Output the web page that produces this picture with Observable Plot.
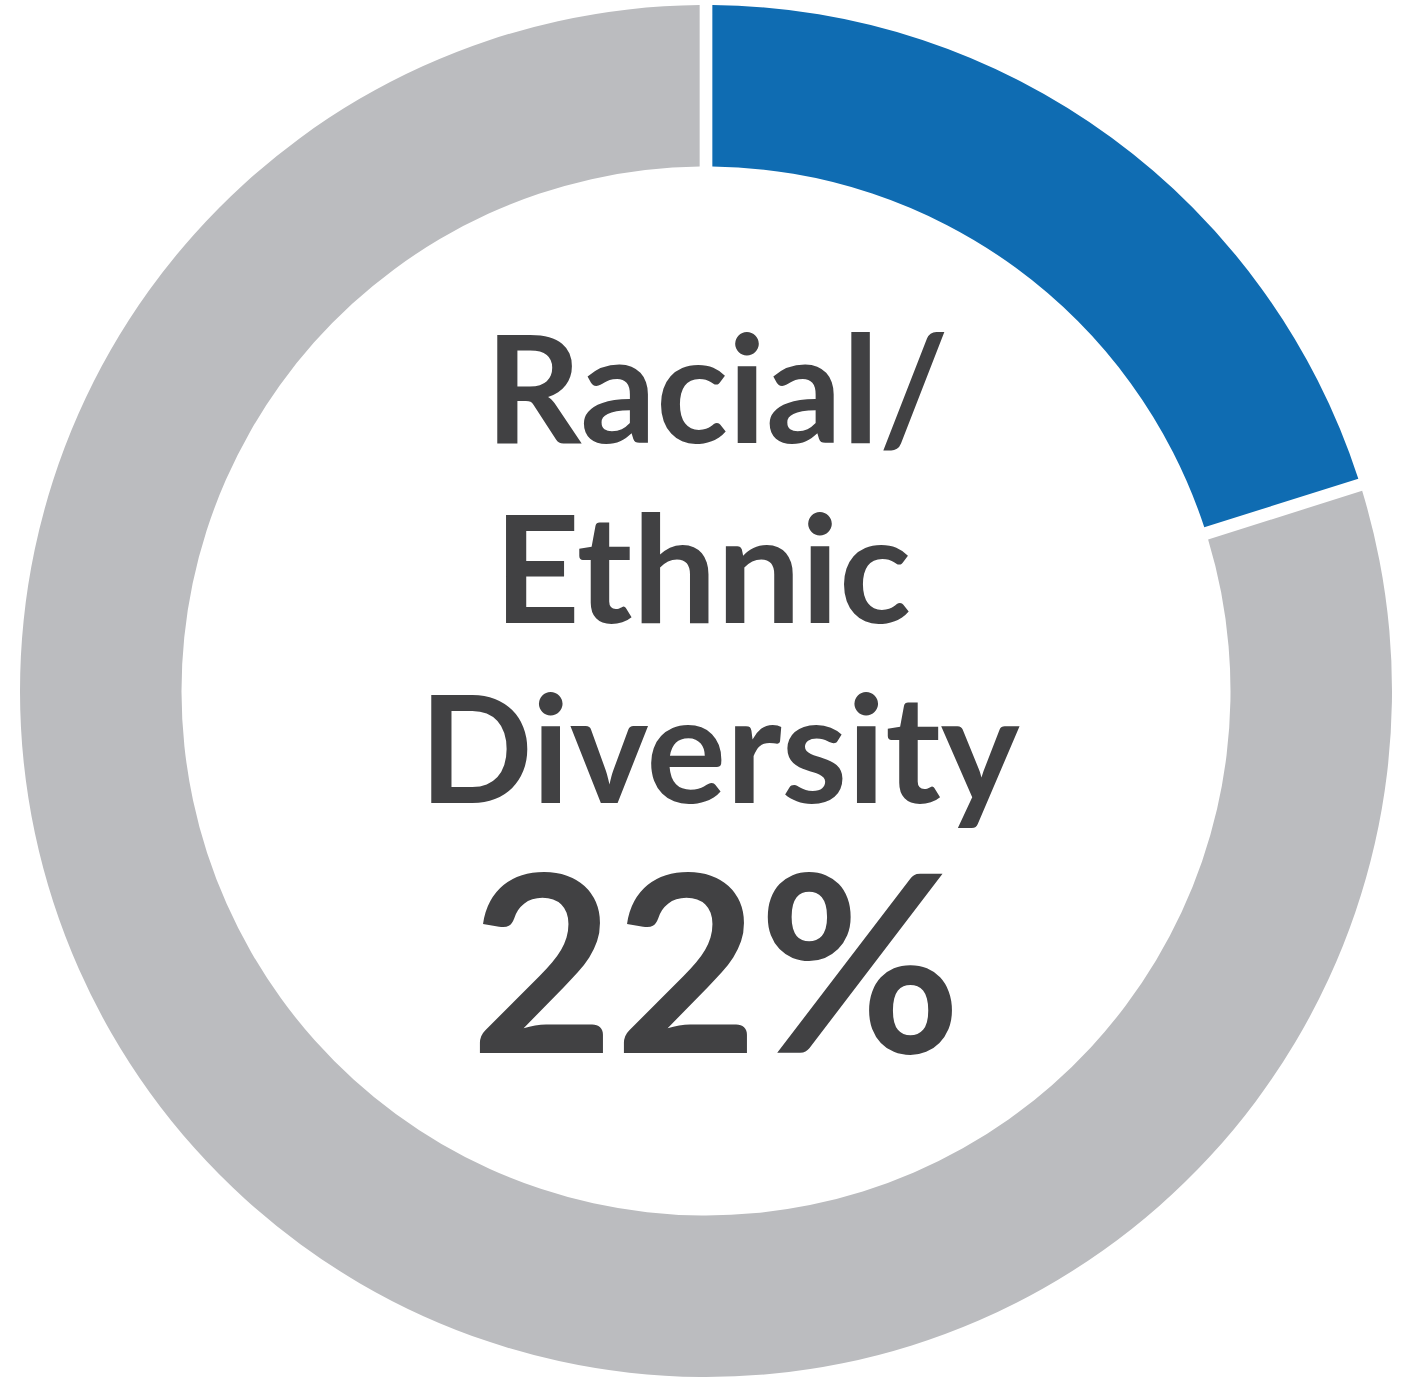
<!DOCTYPE html>
<html>
<head>
<meta charset="utf-8">
<script src="https://cdn.jsdelivr.net/npm/d3@7"></script>
<script src="https://cdn.jsdelivr.net/npm/@observablehq/plot@0.6"></script>
<style>
  html, body { margin: 0; padding: 0; background: #ffffff; }
  #chart svg { display: block; }
</style>
</head>
<body>
<div id="chart"></div>
<script>
// ---- data ----
const categories = ["Racial/Ethnic Diversity", "Other"];
const shares = [20, 80];
const sliceColors = ["#0F6CB2", "#BBBCBF"];
const labelLines = ["Racial/", "Ethnic", "Diversity"];
const valueLabel = "22%";

const slices = categories.map((c, i) => ({category: c, share: shares[i]}));
const colorScale = Plot.scale({color: {type: "ordinal", domain: categories, range: sliceColors}});

const W = 1408, H = 1400;
const CX = 706, CY = 691, R_OUT = 686, R_IN = 524.5, GAP = 12.7;

function donutMark(data) {
  return (index, scales, values, dimensions) => {
    const padRadius = Math.sqrt(R_IN * R_IN + R_OUT * R_OUT);
    const arcs = d3.pie().sort(null).value(d => d.share).padAngle(GAP / padRadius)(data);
    const arc = d3.arc().innerRadius(R_IN).outerRadius(R_OUT).padRadius(padRadius);
    const g = d3.create("svg:g").attr("transform", `translate(${CX},${CY})`);
    g.selectAll("path").data(arcs).join("path")
      .attr("d", arc)
      .attr("fill", d => colorScale.apply(d.data.category));
    return g.node();
  };
}

const textStyle = {fontFamily: "Lato", fontWeight: "bold", fill: "#414143", textAnchor: "middle", frameAnchor: "top-left", lineAnchor: "bottom"};
const lineOffsetsX = [716.5, 702, 719];
const lineMarks = labelLines.map((t, i) =>
  Plot.text([t], {...textStyle, text: d => d, fontSize: 149.5, dx: lineOffsetsX[i], dy: 442 + 180 * i})
);

const chart = Plot.plot({
  width: W,
  height: H,
  margin: 0,
  style: {background: "#ffffff", overflow: "visible"},
  marks: [
    donutMark(slices),
    ...lineMarks,
    Plot.text([valueLabel], {...textStyle, text: d => d, fontSize: 248, dx: 715.5, dy: 1052})
  ]
});
document.getElementById("chart").appendChild(chart);
</script>
</body>
</html>
